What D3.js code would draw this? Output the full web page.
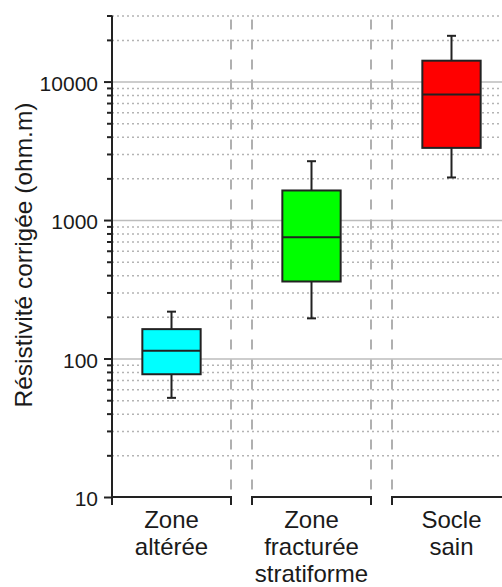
<!DOCTYPE html>
<html>
<head>
<meta charset="utf-8">
<script src="https://cdn.jsdelivr.net/npm/d3@7"></script>
<style>
    body { margin: 0; background: #fff; }
    svg { display: block; font-family: "Liberation Sans", Arial, sans-serif; }
</style>
</head>
<body>
<div id="chart"></div>
<script>
// data
var categories = ["Zone altérée", "Zone fracturée stratiforme", "Socle sain"];
var labelLines = [["Zone", "altérée"], ["Zone", "fracturée", "stratiforme"], ["Socle", "sain"]];
var whiskerLow = [52, 195, 2030];
var q1 = [77, 360, 3320];
var median = [114, 750, 8050];
var q3 = [163, 1635, 14150];
var whiskerHigh = [218, 2660, 21400];
var boxColors = ["#00ffff", "#00ff00", "#ff0000"];
var majorTicks = [10, 100, 1000, 10000];
var minorTicks = [20, 30, 40, 50, 60, 70, 80, 90,
    200, 300, 400, 500, 600, 700, 800, 900,
    2000, 3000, 4000, 5000, 6000, 7000, 8000, 9000,
    20000, 30000];

function init() {
    var W = 502, H = 587;
    var left = 112, right = 511, top = 15.5, bottom = 497;

    var svg = d3.select("#chart")
        .append("svg")
        .attr("width", W)
        .attr("height", H);

    var y = d3.scaleLog()
        .domain([10, 30000])
        .range([bottom, top]);

    var x = d3.scaleBand()
        .domain(categories)
        .range([left, right])
        .paddingInner(0.15)
        .paddingOuter(0);

    // dotted minor grid
    svg.append("g")
        .attr("transform", `translate(${left},0)`)
        .call(d3.axisLeft(y).tickValues(minorTicks).tickSize(-(W - left)).tickFormat(""))
        .call(g => g.select(".domain").remove())
        .selectAll("line")
        .attr("stroke", "#b4b4b4")
        .attr("stroke-width", 1.5)
        .attr("stroke-dasharray", "2,3");

    // solid decade grid
    svg.append("g")
        .attr("transform", `translate(${left},0)`)
        .call(d3.axisLeft(y).tickValues([100, 1000, 10000]).tickSize(-(W - left)).tickFormat(""))
        .call(g => g.select(".domain").remove())
        .selectAll("line")
        .attr("stroke", "#bdbdbd")
        .attr("stroke-width", 1.5);

    // dashed separators at the band edges
    var edges = [];
    categories.forEach(c => {
        edges.push(x(c));
        edges.push(x(c) + x.bandwidth());
    });
    svg.append("g")
        .selectAll("line")
        .data(edges.slice(1))
        .enter()
        .append("line")
        .attr("x1", d => d)
        .attr("x2", d => d)
        .attr("y1", top + 4)
        .attr("y2", bottom)
        .attr("stroke", "#b0b0b0")
        .attr("stroke-width", 2)
        .attr("stroke-dasharray", "10,10");

    // boxes
    var boxW = x.bandwidth() * 0.49;
    var boxes = svg.append("g")
        .selectAll("g")
        .data(categories.map((c, i) => ({ c: c, i: i })))
        .enter()
        .append("g")
        .attr("transform", d => `translate(${x(d.c) + x.bandwidth() / 2},0)`);

    boxes.append("line")
        .attr("y1", d => y(whiskerLow[d.i]))
        .attr("y2", d => y(whiskerHigh[d.i]))
        .attr("stroke", "#222")
        .attr("stroke-width", 2);

    boxes.selectAll(".cap")
        .data(d => [whiskerLow[d.i], whiskerHigh[d.i]])
        .enter()
        .append("line")
        .attr("class", "cap")
        .attr("x1", -4.5)
        .attr("x2", 4.5)
        .attr("y1", v => y(v))
        .attr("y2", v => y(v))
        .attr("stroke", "#222")
        .attr("stroke-width", 2);

    boxes.append("rect")
        .attr("x", -boxW / 2)
        .attr("width", boxW)
        .attr("y", d => y(q3[d.i]))
        .attr("height", d => y(q1[d.i]) - y(q3[d.i]))
        .attr("fill", d => boxColors[d.i])
        .attr("stroke", "#222")
        .attr("stroke-width", 2);

    boxes.append("line")
        .attr("x1", -boxW / 2)
        .attr("x2", boxW / 2)
        .attr("y1", d => y(median[d.i]))
        .attr("y2", d => y(median[d.i]))
        .attr("stroke", "#222")
        .attr("stroke-width", 2);

    // y axis
    var yAxis = svg.append("g")
        .attr("transform", `translate(${left},0)`)
        .call(d3.axisLeft(y).tickValues(majorTicks).tickSize(8).tickPadding(6).tickFormat(d3.format("d")))
        .call(g => g.select(".domain").attr("stroke", "#222").attr("stroke-width", 2).attr("d", `M0,${top}V${bottom}`));
    yAxis.selectAll("line").attr("stroke", "#222").attr("stroke-width", 2);
    yAxis.selectAll("text")
        .attr("fill", "#1a1a1a")
        .attr("dy", "0.42em")
        .style("font-size", "21px");

    svg.append("g")
        .attr("transform", `translate(${left},0)`)
        .call(d3.axisLeft(y).tickValues(minorTicks).tickSize(5).tickFormat(""))
        .call(g => g.select(".domain").remove())
        .selectAll("line")
        .attr("stroke", "#222")
        .attr("stroke-width", 2);

    // broken x axis, one segment per category
    var xSeg = svg.append("g");
    categories.forEach(c => {
        var x0 = x(c), x1 = x(c) + x.bandwidth();
        xSeg.append("path")
            .attr("d", `M${x0},${bottom + 8}V${bottom}H${x1}V${bottom + 8}`)
            .attr("fill", "none")
            .attr("stroke", "#222")
            .attr("stroke-width", 2);
    });

    // category labels
    var labels = svg.append("g")
        .selectAll("text")
        .data(categories.map((c, i) => ({ c: c, i: i })))
        .enter()
        .append("text")
        .attr("text-anchor", "middle")
        .attr("fill", "#1a1a1a")
        .style("font-size", "24px");
    labels.selectAll("tspan")
        .data(d => labelLines[d.i].map(t => ({ t: t, c: d.c })))
        .enter()
        .append("tspan")
        .attr("x", d => x(d.c) + x.bandwidth() / 2)
        .attr("y", (d, j) => 528 + j * 27)
        .text(d => d.t);

    // y label
    svg.append("text")
        .attr("transform", "translate(32,255) rotate(-90)")
        .attr("text-anchor", "middle")
        .attr("fill", "#1a1a1a")
        .style("font-size", "24.5px")
        .text("Résistivité corrigée (ohm.m)");
}

window.onload = init;
</script>
</body>
</html>
